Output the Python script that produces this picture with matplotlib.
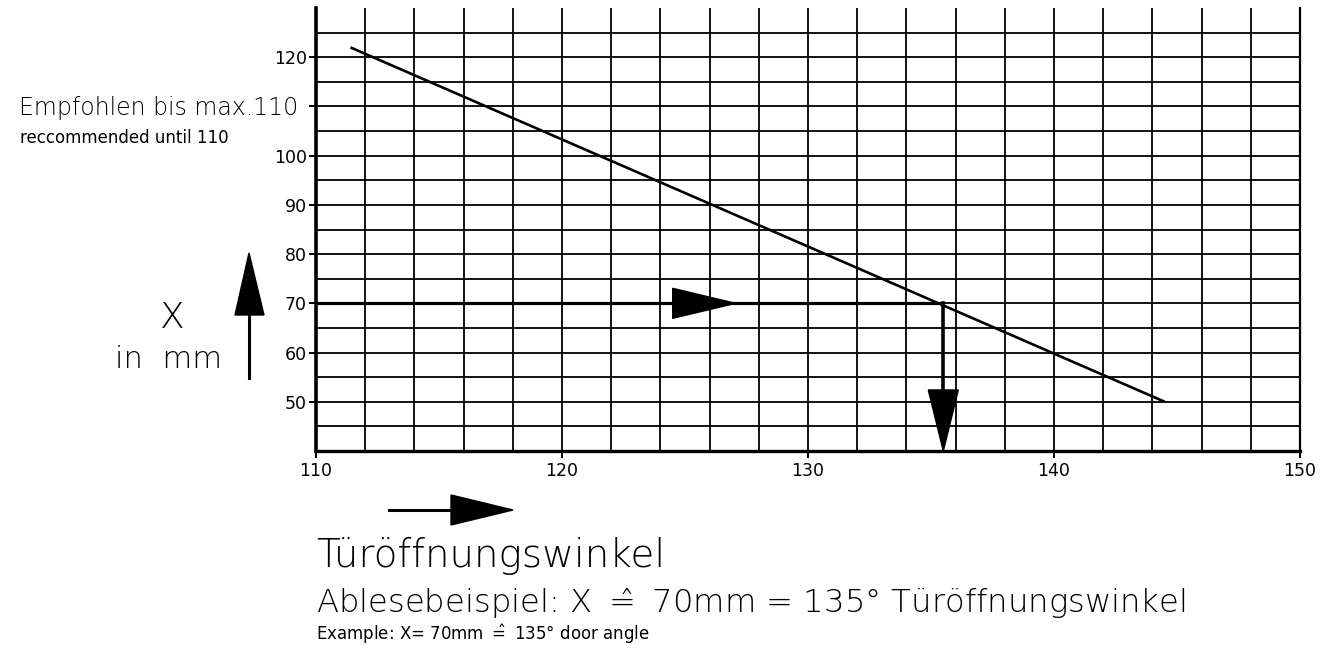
import numpy as np
import matplotlib
matplotlib.use("Agg")
import matplotlib.pyplot as plt
from matplotlib.patches import Polygon

# door opening angle vs. distance X (mm)
door_angle = [111.4, 144.5]
x_mm = [122, 50]

# reading example: X = 70 mm -> about 135 deg
example_mm = 70
example_angle = 135.5

x_ticks = [110, 120, 130, 140, 150]
y_ticks = [50, 60, 70, 80, 90, 100, 110, 120]
y_tick_labels = ['50', '60', '70', '80', '90', '100', '', '120']

plt.rcParams['font.family'] = ['DejaVu Sans']
plt.rcParams['mathtext.default'] = 'regular'

W, H = 1335, 651
fig = plt.figure(figsize=(W / 100, H / 100), dpi=100)
ax = fig.add_axes([316 / W, 1 - 451 / H, 984 / W, 443 / H])
ax.set_xlim(110, 150)
ax.set_ylim(40, 130)

# grid: horizontal every 5 mm, vertical every 2 deg
for y in np.arange(45, 130, 5):
    ax.axhline(y, color='black', lw=1.3, zorder=1)
for x in np.arange(112, 150, 2):
    ax.axvline(x, color='black', lw=1.3, zorder=1)

ax.plot(door_angle, x_mm, color='black', lw=1.9, solid_capstyle='butt', zorder=3)

# reading arrows
ax.plot([110, example_angle], [example_mm, example_mm], color='black', lw=2.3, zorder=4)
ax.plot([example_angle, example_angle], [example_mm, 44], color='black', lw=2.6, zorder=4)
ax.add_patch(Polygon([[124.5, example_mm + 3.05], [124.5, example_mm - 3.05], [127.05, example_mm]],
                     closed=True, facecolor='black', edgecolor='black', lw=1, zorder=5))
ax.add_patch(Polygon([[example_angle - 0.61, 52.4], [example_angle + 0.61, 52.4], [example_angle, 40]],
                     closed=True, facecolor='black', edgecolor='black', lw=1, zorder=5, clip_on=False))

ax.spines['top'].set_visible(False)
ax.spines['left'].set_linewidth(2.6)
ax.spines['bottom'].set_linewidth(2.4)
ax.spines['right'].set_linewidth(1.6)

ax.set_xticks(x_ticks)
ax.set_yticks(y_ticks)
ax.set_yticklabels(y_tick_labels)
ax.tick_params(axis='both', direction='out', length=5, width=1.4, labelsize=12.5, pad=1.5)
ax.tick_params(axis='x', pad=3)
ax.set_facecolor('white')

# overlay in pixel coordinates for texts and side arrows
ov = fig.add_axes([0, 0, 1, 1])
ov.set_xlim(0, W)
ov.set_ylim(H, 0)
ov.axis('off')
ov.patch.set_alpha(0)

ov.text(298, 108, 'Empfohlen bis max.110', ha='right', va='center', fontsize=17, fontweight='light')
ov.text(20, 138, 'reccommended until 110', ha='left', va='center', fontsize=12)
ov.text(172, 318, 'X', ha='center', va='center', fontsize=26, fontweight='light')
ov.text(169, 360, 'in  mm', ha='center', va='center', fontsize=22, fontweight='light')

ov.text(316, 567, 'Türöffnungswinkel', ha='left', va='baseline', fontsize=28, fontweight='light')
ov.text(316, 613, r'Ablesebeispiel: X $\hat{=}$ 70mm = 135° Türöffnungswinkel',
        ha='left', va='baseline', fontsize=23.2, fontweight='light')
ov.text(316, 640, r'Example: X= 70mm $\hat{=}$ 135° door angle', ha='left', va='baseline', fontsize=12)

# axis direction arrows
ov.plot([249, 249], [378, 300], color='black', lw=2.2)
ov.add_patch(Polygon([[235, 315], [264, 315], [249, 253]], closed=True,
                     facecolor='black', edgecolor='black', lw=1))
ov.plot([389, 460], [510, 510], color='black', lw=2.2)
ov.add_patch(Polygon([[451, 495], [451, 525], [513, 510]], closed=True,
                     facecolor='black', edgecolor='black', lw=1))

fig.savefig('out.png', dpi=100, facecolor='white')
